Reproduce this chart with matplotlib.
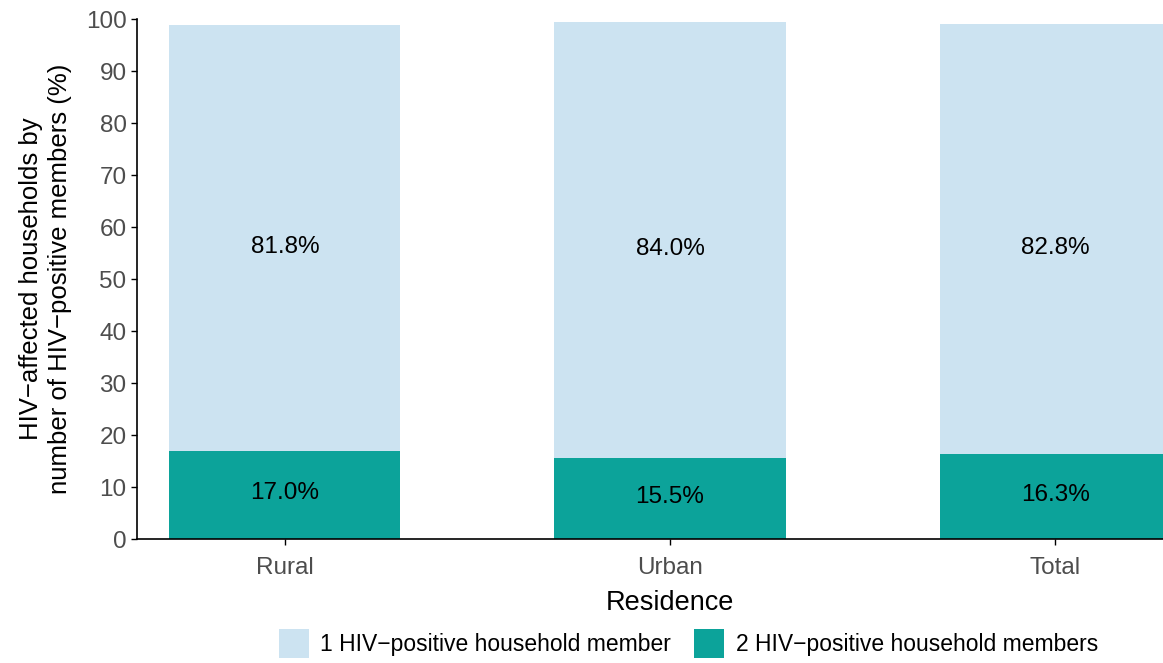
import matplotlib
matplotlib.use("Agg")
import matplotlib.pyplot as plt
from matplotlib.patches import Patch

plt.rcParams["font.family"] = ["Liberation Sans", "DejaVu Sans"]

categories = ["Rural", "Urban", "Total"]
one_member = [81.8, 84.0, 82.8]
two_members = [17.0, 15.5, 16.3]
series_labels = ["1 HIV\u2212positive household member", "2 HIV\u2212positive household members"]
yticks = [0, 10, 20, 30, 40, 50, 60, 70, 80, 90, 100]

LIGHT = "#cce3f1"
TEAL = "#0ca39a"

fig = plt.figure(figsize=(11.63, 6.63), dpi=100)
ax = fig.add_axes([137 / 1163, 1 - 539 / 663, 1066 / 1163, 520 / 663])

x = list(range(len(categories)))
ax.bar(x, two_members, width=0.6, color=TEAL)
ax.bar(x, one_member, width=0.6, bottom=two_members, color=LIGHT)

for i in x:
    ax.text(i, two_members[i] / 2 + 0.4, f"{two_members[i]:.1f}%", ha="center", va="center",
            fontsize=17.5, color="black")
    ax.text(i, two_members[i] + one_member[i] / 2 - 1.7, f"{one_member[i]:.1f}%",
            ha="center", va="center", fontsize=17.5, color="black")

ax.set_xlim(-0.384, 2.384)
ax.set_ylim(0, 100)
ax.set_xticks(x)
ax.set_xticklabels(categories)
ax.set_yticks(yticks)
ax.tick_params(axis="both", labelsize=17.5, labelcolor="#4d4d4d", color="black",
               length=4, width=1)
ax.tick_params(axis="x", pad=9)
for side in ["top", "right"]:
    ax.spines[side].set_visible(False)
for side in ["left", "bottom"]:
    ax.spines[side].set_linewidth(1.2)

ax.set_xlabel("Residence", fontsize=19.5, labelpad=8)
ax.set_ylabel("HIV\u2212affected households by\nnumber of HIV\u2212positive members (%)",
              fontsize=18.5, labelpad=10, linespacing=1.25)

handles = [Patch(facecolor=LIGHT), Patch(facecolor=TEAL)]
fig.legend(handles, series_labels, loc="center", bbox_to_anchor=(0.592, 0.029),
           ncol=2, frameon=False, fontsize=16.5, handlelength=1.3, handleheight=1.6,
           handletextpad=0.5, columnspacing=1.0)

fig.savefig("out.png", dpi=100)
